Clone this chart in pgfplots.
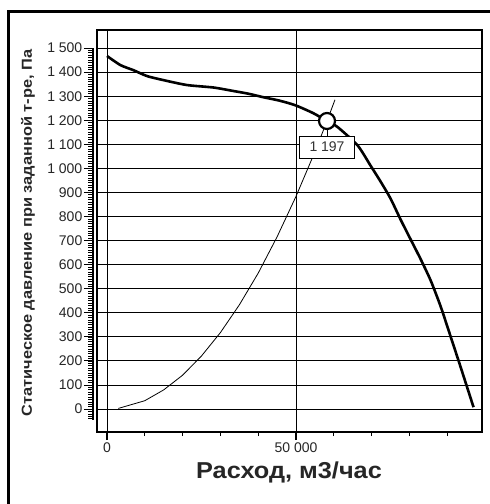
\documentclass[border=0pt]{standalone}
\usepackage{fontspec}
\setmainfont{Liberation Sans}
\usepackage{pgfplots}
\pgfplotsset{compat=1.18}

\begin{document}
\begin{tikzpicture}[x=1pt,y=1pt]
\useasboundingbox (0,0) rectangle (490,504);
\fill[white] (0,0) rectangle (490,504);
% outer frame, runs off the right and bottom edges
\draw[line width=3pt] (8,492) rectangle (500,-10);

% plot box, grid and curves
\begin{axis}[at={(97pt,72pt)},anchor=south west,scale only axis,
  width=385pt,height=402pt,
  xmin=-2650,xmax=99200,ymin=-95,ymax=1575,
  axis line style={line width=1.4pt},
  ytick={0,100,...,1500},yticklabels={},ytick style={draw=none},
  xtick={0,50000},minor xtick={10000,20000,...,90000},
  scaled x ticks=false,
  xtick pos=bottom,tick align=outside,
  major tick length=8pt,minor tick length=4pt,
  xtick style={line width=1.1pt,black},minor x tick style={line width=1pt},
  grid=major,grid style={black,line width=1pt},
  /pgf/number format/1000 sep={\ },
  /pgf/number format/assume math mode=true,
  xticklabel style={font=\fontsize{14}{14}\selectfont,text=black!85,inner sep=2.5pt},
  clip=false]
\addplot[black,line width=2.6pt,line join=round,smooth,tension=0.4] coordinates {
 (0,1467) (3570,1429) (7010,1408) (10700,1383) (16000,1363) (21300,1346)
 (28200,1336) (33300,1322) (37500,1310) (41270,1296) (45500,1282)
 (49700,1263) (54500,1230) (58200,1197) (60980,1172) (66270,1096)
 (69700,1012) (72350,946) (75000,875) (77650,788) (80290,706)
 (82940,624) (85580,536) (88230,428) (90870,303) (93520,176) (96960,8)};
\addplot[black,line width=0.8pt] coordinates {
 (3000,3) (10000,35) (15000,80) (20000,141) (25000,221) (30000,318)
 (35000,433) (40000,565) (45000,716) (50000,884) (55000,1069)
 (58200,1197) (60300,1285)};
\addplot[black,line width=2.2pt,mark=*,mark size=8pt,
  mark options={fill=white,draw=black},only marks] coordinates {(58200,1197)};
\draw[black,line width=0.8pt] (axis cs:58200,1197) -- ++(0pt,-15pt);
\node[draw=black,line width=0.9pt,fill=white,minimum width=55pt,minimum height=22pt,
  inner sep=1pt,font=\fontsize{14}{14}\selectfont,text=black!80]
  at ([yshift=-26pt]axis cs:58200,1197) {1 197};
\end{axis}

% y ruler with tick labels
\begin{axis}[at={(93pt,72pt)},anchor=south west,scale only axis,
  width=10pt,height=402pt,
  xmin=0,xmax=1,ymin=-95,ymax=1575,
  hide x axis,axis line style={draw=none},
  ytick={0,100,...,1500},minor ytick={-40,-30,...,1500},
  ytick pos=left,tick align=outside,
  major tick length=9pt,minor tick length=4.5pt,
  ytick style={line width=1pt,black},minor y tick style={line width=0.8pt,black},
  /pgf/number format/1000 sep={\ },
  /pgf/number format/assume math mode=true,
  yticklabel style={font=\fontsize{14}{14}\selectfont,text=black!85,inner sep=1.5pt},
  clip=false]
\draw[black,line width=1.8pt] (axis cs:0,-45) -- (axis cs:0,1500);
\end{axis}

\node[rotate=90,font=\bfseries\fontsize{14.5}{14.5}\selectfont,text=black!85]
  at (28,271) {\scalebox{1.13}[1]{Статическое давление при заданной т-ре, Па}};
\node[anchor=base,font=\bfseries\fontsize{23}{23}\selectfont,text=black!85]
  at (289,26) {\scalebox{1.1}[1]{Расход, м3/час}};
\end{tikzpicture}
\end{document}
